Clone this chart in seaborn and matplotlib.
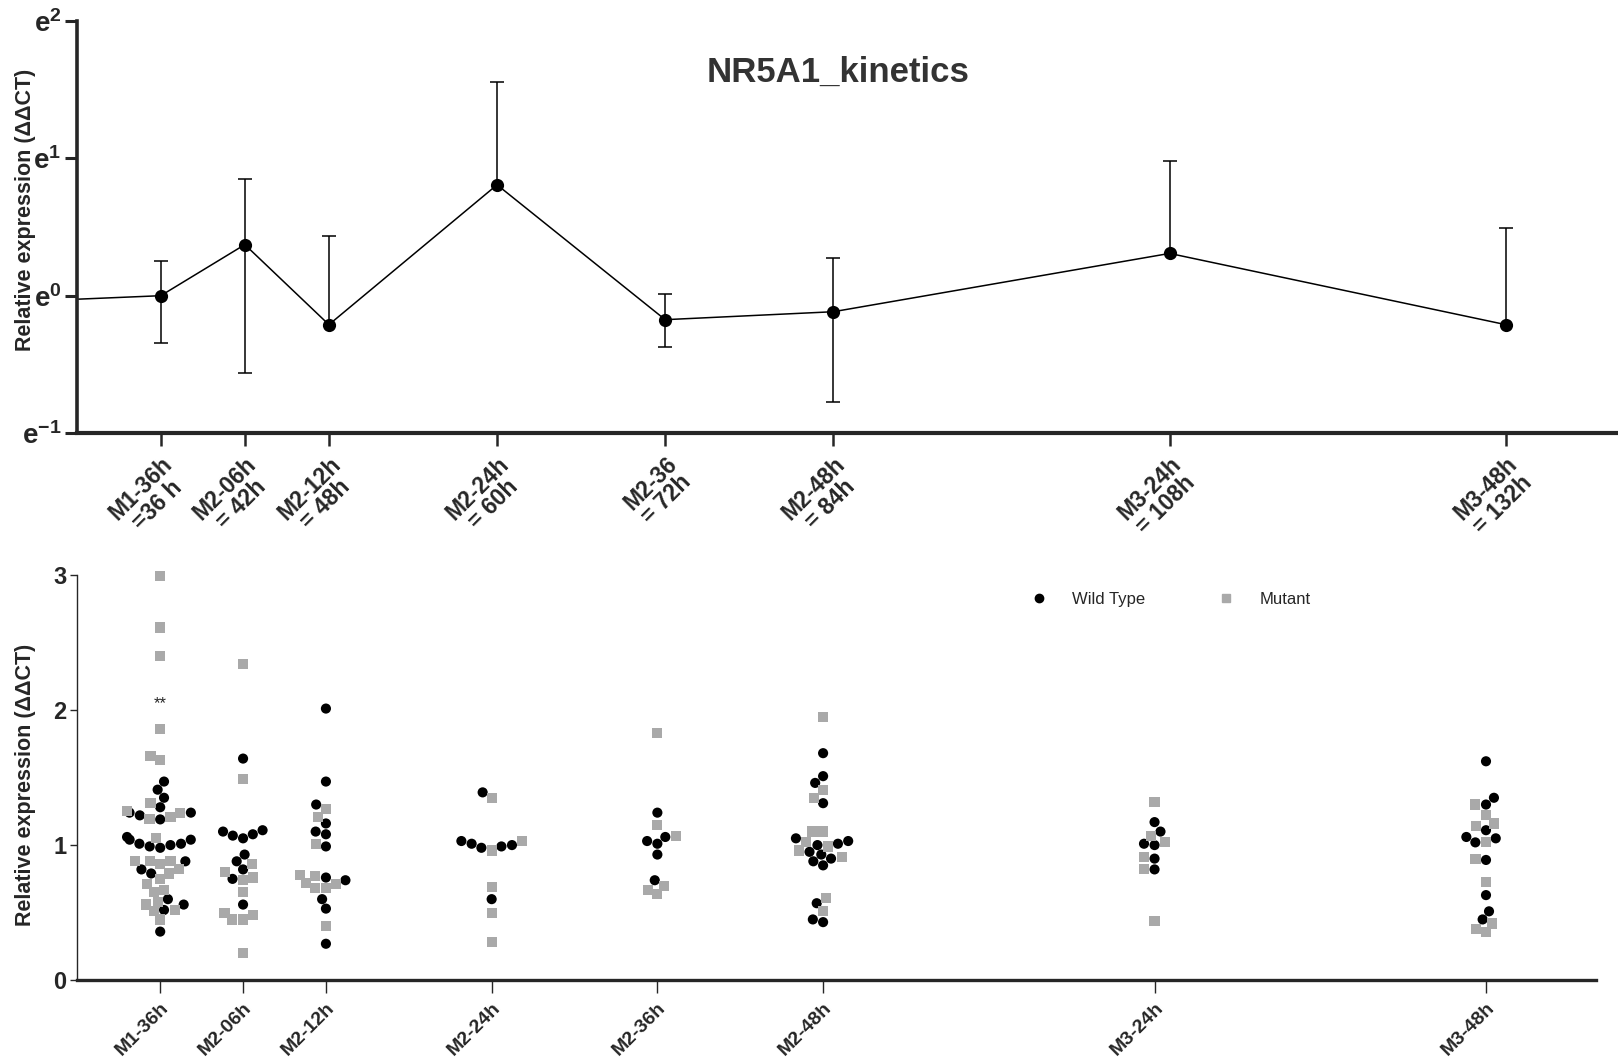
import numpy as np
import pandas as pd
import matplotlib
matplotlib.use('Agg')
import matplotlib.pyplot as plt
import matplotlib.transforms as mtransforms
import seaborn as sns
from matplotlib.lines import Line2D
from matplotlib.markers import MarkerStyle
from matplotlib.ticker import NullLocator

# ---- top panel: kinetics (mean with error bars, log base e) ----
kin_hours = [24, 36, 42, 48, 60, 72, 84, 108, 132]
kin_mean = [0.95, 1.00, 1.45, 0.81, 2.24, 0.84, 0.89, 1.36, 0.81]
kin_upper = [np.nan, 1.29, 2.33, 1.54, 4.73, 1.01, 1.32, 2.67, 1.64]
kin_lower = [np.nan, 0.71, 0.57, np.nan, np.nan, 0.69, 0.46, np.nan, np.nan]

tick_hours = [36, 42, 48, 60, 72, 84, 108, 132]
top_labels = ['M1-36h\n=36 h', 'M2-06h\n= 42h', 'M2-12h\n= 48h', 'M2-24h\n= 60h',
              'M2-36\n= 72h', 'M2-48h\n= 84h', 'M3-24h\n= 108h', 'M3-48h\n= 132h']
bottom_labels = ['M1-36h', 'M2-06h', 'M2-12h', 'M2-24h', 'M2-36h', 'M2-48h', 'M3-24h', 'M3-48h']

# ---- bottom panel: individual values ----
wt_m1_36h = [1.47, 1.41, 1.35, 1.28, 1.24, 1.22, 1.24, 1.19, 1.00, 1.01, 1.04, 1.06,
             1.04, 0.98, 0.99, 1.01, 0.88, 0.82, 0.79, 0.60, 0.56, 0.52, 0.36]
mu_m1_36h = [2.99, 2.61, 2.40, 1.86, 1.66, 1.63, 1.31, 1.24, 1.19, 1.21, 1.25, 1.05,
             0.88, 0.88, 0.86, 0.88, 0.82, 0.79, 0.75, 0.71, 0.67, 0.65, 0.58, 0.56,
             0.51, 0.52, 0.45]
wt_m2_06h = [1.64, 1.10, 1.05, 1.08, 1.07, 1.11, 0.93, 0.88, 0.82, 0.75, 0.56]
mu_m2_06h = [2.34, 1.49, 0.80, 0.74, 0.86, 0.76, 0.65, 0.48, 0.45, 0.45, 0.50, 0.20]
wt_m2_12h = [2.01, 1.47, 1.30, 1.16, 1.08, 1.10, 0.99, 0.76, 0.74, 0.60, 0.53, 0.27]
mu_m2_12h = [1.27, 1.21, 1.01, 0.78, 0.77, 0.72, 0.68, 0.71, 0.68, 0.40]
wt_m2_24h = [1.39, 0.99, 1.01, 0.98, 1.03, 1.00, 0.60]
mu_m2_24h = [1.35, 1.03, 0.96, 0.69, 0.50, 0.28]
wt_m2_36h = [1.24, 1.03, 1.01, 1.06, 0.93, 0.74]
mu_m2_36h = [1.83, 1.15, 1.07, 0.64, 0.67, 0.70]
wt_m2_48h = [1.68, 1.51, 1.46, 1.31, 1.05, 1.00, 1.03, 1.01, 0.93, 0.88, 0.85,
             0.90, 0.95, 0.57, 0.43, 0.45]
mu_m2_48h = [1.95, 1.41, 1.35, 1.10, 1.10, 0.96, 0.99, 1.02, 0.91, 0.61, 0.51]
wt_m3_24h = [1.17, 1.10, 1.00, 1.01, 0.90, 0.82]
mu_m3_24h = [1.32, 1.07, 1.02, 0.91, 0.82, 0.44]
wt_m3_48h = [1.62, 1.30, 1.35, 1.11, 1.05, 1.06, 1.02, 0.89, 0.63, 0.51, 0.45]
mu_m3_48h = [1.30, 1.22, 1.16, 1.14, 1.02, 0.90, 0.73, 0.42, 0.36, 0.38]

wt_groups = [wt_m1_36h, wt_m2_06h, wt_m2_12h, wt_m2_24h, wt_m2_36h, wt_m2_48h, wt_m3_24h, wt_m3_48h]
mu_groups = [mu_m1_36h, mu_m2_06h, mu_m2_12h, mu_m2_24h, mu_m2_36h, mu_m2_48h, mu_m3_24h, mu_m3_48h]

rows = []
for h, wt, mu in zip(tick_hours, wt_groups, mu_groups):
    rows += [(h, v, 'Wild Type') for v in wt]
    rows += [(h, v, 'Mutant') for v in mu]
df = pd.DataFrame(rows, columns=['hour', 'value', 'genotype'])

GRAY = '#a9a9a9'

sns.set_style('ticks')
plt.rcParams['font.family'] = ['Liberation Sans', 'DejaVu Sans']
plt.rcParams['mathtext.fontset'] = 'custom'
plt.rcParams['mathtext.rm'] = 'Liberation Sans'
plt.rcParams['mathtext.bf'] = 'Liberation Sans:bold'

fig = plt.figure(figsize=(16.18, 10.61), dpi=100)
ax1 = fig.add_axes([0.0474, 0.5917, 0.9526, 0.3888])
ax2 = fig.add_axes([0.0478, 0.0761, 0.9389, 0.3822])

# ---------- top panel ----------
sns.lineplot(x=kin_hours, y=kin_mean, ax=ax1, color='black', linewidth=1.1,
             marker='o', markersize=9.5, markeredgewidth=0)
mean = np.array(kin_mean)
up = np.array(kin_upper)
lo = np.array(kin_lower)
hrs = np.array(kin_hours)
ok = ~np.isnan(up)
ax1.vlines(hrs[ok], np.where(np.isnan(lo), mean, lo)[ok], up[ok], color='black', linewidth=1.1)
ax1.plot(hrs[ok], up[ok], '_', color='black', ms=10, mew=1.1)
okl = ~np.isnan(lo)
ax1.plot(hrs[okl], lo[okl], '_', color='black', ms=10, mew=1.1)

ax1.set_yscale('log', base=np.e)
ax1.set_ylim(np.e ** -1, np.e ** 2)
ax1.set_yticks([np.e ** k for k in (-1, 0, 1, 2)])
ax1.set_yticklabels([r'$\mathbf{e^{-1}}$', r'$\mathbf{e^{0}}$', r'$\mathbf{e^{1}}$', r'$\mathbf{e^{2}}$'],
                    fontsize=20)
ax1.yaxis.set_minor_locator(NullLocator())
ax1.set_xlim(30, 140)
ax1.set_xticks(tick_hours)
ax1.set_xticklabels(top_labels, rotation=45, ha='right', rotation_mode='anchor',
                    multialignment='center', fontsize=16.5, fontweight='bold',
                    linespacing=1.0)
shift = mtransforms.ScaledTranslation(-9 / 72, -3 / 72, fig.dpi_scale_trans)
for lab in ax1.get_xticklabels():
    lab.set_transform(lab.get_transform() + shift)
ax1.tick_params(axis='y', length=9, width=2.2, pad=2)
ax1.tick_params(axis='x', length=9, width=1.8, pad=5)
for s in ('top', 'right'):
    ax1.spines[s].set_visible(False)
ax1.spines['left'].set_linewidth(2.6)
ax1.spines['bottom'].set_linewidth(3.0)
ax1.set_ylabel('Relative expression (ΔΔCT)', fontsize=15.5, fontweight='bold')
ax1.yaxis.set_label_coords(-0.0264, 0.542)
fig.text(838 / 1618, 1 - 72 / 1061, 'NR5A1_kinetics', ha='center', va='center',
         fontsize=25, fontweight='bold', color='#333333')

# ---------- bottom panel ----------
sns.swarmplot(data=df, x='hour', y='value', hue='genotype', native_scale=True,
              hue_order=['Wild Type', 'Mutant'],
              palette={'Wild Type': 'black', 'Mutant': GRAY},
              size=7.3, linewidth=0, ax=ax2, legend=False)

circ = MarkerStyle('o')
circ_path = circ.get_path().transformed(circ.get_transform())
sq = MarkerStyle('s')
sq_path = sq.get_path().transformed(sq.get_transform())
for coll in ax2.collections:
    fc = np.asarray(coll.get_facecolors())
    n = len(coll.get_offsets())
    if len(fc) == 1:
        fc = np.repeat(fc, n, axis=0)
    paths = [sq_path if c[0] > 0.3 else circ_path for c in fc]
    coll.set_paths(paths)
    coll.set_clip_on(False)

ax2.set_xlim(30, 140)
ax2.set_ylim(0, 3)
ax2.set_yticks([0, 1, 2, 3])
ax2.set_yticklabels(['0', '1', '2', '3'], fontsize=17, fontweight='bold')
ax2.set_xticks(tick_hours)
ax2.set_xticklabels(bottom_labels, rotation=45, ha='right', rotation_mode='anchor',
                    fontsize=14, fontweight='bold')
ax2.tick_params(axis='x', length=9, width=1.0, pad=5)
ax2.tick_params(axis='y', length=5, width=1.0, pad=3)
for s in ('top', 'right'):
    ax2.spines[s].set_visible(False)
ax2.spines['left'].set_linewidth(1.0)
ax2.spines['bottom'].set_linewidth(2.4)
ax2.set_xlabel('')
ax2.set_ylabel('Relative expression (ΔΔCT)', fontsize=15.5, fontweight='bold')
ax2.yaxis.set_label_coords(-0.0272, 0.4816)

ax2.text(36, 2.05, '**', ha='center', va='center', fontsize=12)

handles = [Line2D([], [], marker='o', color='black', linestyle='', markersize=6),
           Line2D([], [], marker='s', color=GRAY, linestyle='', markersize=6)]
fig.legend(handles, ['Wild Type', 'Mutant'], loc='center left', ncol=2,
           bbox_to_anchor=(1030.7 / 1618, 1 - 599.6 / 1061), frameon=False,
           fontsize=12, handlelength=1, handletextpad=1.5, columnspacing=4.35,
           borderpad=0, borderaxespad=0)

fig.savefig('out.png', dpi=100)
